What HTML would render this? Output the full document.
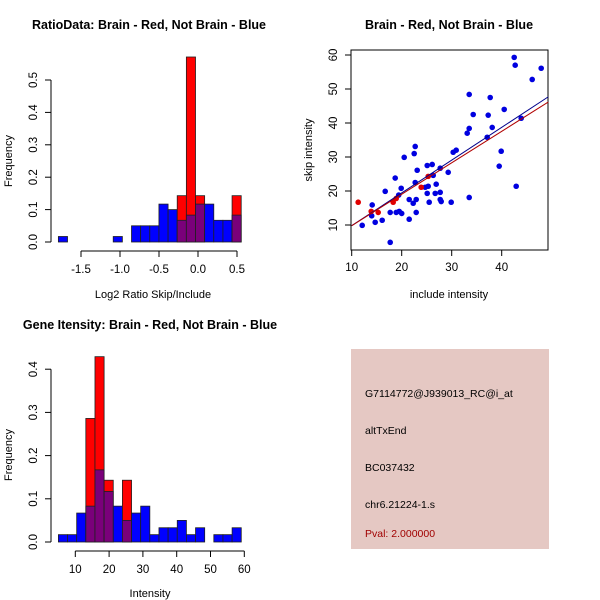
<!DOCTYPE html>
<html><head><meta charset="utf-8"><style>
body{margin:0;background:#fff}
svg{display:block;font-family:"Liberation Sans",sans-serif}
</style></head><body>
<svg id="s" width="600" height="600" viewBox="0 0 600 600" xmlns="http://www.w3.org/2000/svg">
<rect x="0" y="0" width="600" height="600" fill="#fff"/>
<text x="149" y="29" font-size="12.5" font-weight="bold" text-anchor="middle">RatioData: Brain - Red, Not Brain - Blue</text>
<text x="449" y="29" font-size="12.5" font-weight="bold" text-anchor="middle">Brain - Red, Not Brain - Blue</text>
<text x="150" y="329" font-size="12.5" font-weight="bold" text-anchor="middle">Gene Itensity: Brain - Red, Not Brain - Blue</text>
<text x="153" y="298" font-size="11" text-anchor="middle">Log2 Ratio Skip/Include</text>
<text x="12" y="161" font-size="11" text-anchor="middle" transform="rotate(-90 12 161)">Frequency</text>
<text x="449" y="298" font-size="11" text-anchor="middle">include intensity</text>
<text x="312" y="150" font-size="11" text-anchor="middle" transform="rotate(-90 312 150)">skip intensity</text>
<text x="150" y="597" font-size="11" text-anchor="middle">Intensity</text>
<text x="12" y="455" font-size="11" text-anchor="middle" transform="rotate(-90 12 455)">Frequency</text>
<g>
<rect x="351" y="349" width="198" height="200" fill="#e5c8c3"/>
<text x="365" y="397" font-size="10.5">G7114772@J939013_RC@i_at</text>
<text x="365" y="434" font-size="10.5">altTxEnd</text>
<text x="365" y="471" font-size="10.5">BC037432</text>
<text x="365" y="508" font-size="10.5">chr6.21224-1.s</text>
<text x="365" y="537" font-size="10.5" fill="#a00000">Pval: 2.000000</text>
</g>
<g id="g"></g>
</svg>
<script>
// Ratio histogram data
const ratioStart = -1.79, ratioBinW = 0.1172;
const ratioBlue = [0.017,0,0,0,0,0,0.017,0,0.05,0.05,0.05,0.117,0.1,0.067,0.083,0.117,0.117,0.067,0.067,0.083];
const ratioRed  = [0,0,0,0,0,0,0,0,0,0,0,0,0,0.143,0.571,0.143,0,0,0,0.143];
const ratioXTicks = [-1.5,-1.0,-0.5,0.0,0.5];
const ratioXLabels = ["-1.5","-1.0","-0.5","0.0","0.5"];
const ratioYTicks = [0,0.1,0.2,0.3,0.4,0.5];
const ratioYLabels = ["0.0","0.1","0.2","0.3","0.4","0.5"];
// Intensity histogram data
const intStart = 5, intBinW = 2.705;
const intBlue = [0.017,0.017,0.067,0.083,0.167,0.117,0.083,0.05,0.067,0.083,0.017,0.033,0.033,0.05,0.017,0.033,0,0.017,0.017,0.033];
const intRed  = [0,0,0,0.286,0.429,0.143,0,0.143,0,0,0,0,0,0,0,0,0,0,0,0];
const intXTicks = [10,20,30,40,50,60];
const intYTicks = [0,0.1,0.2,0.3,0.4];
const intYLabels = ["0.0","0.1","0.2","0.3","0.4"];
// Scatter data
const blueX = [12.1,14.1,14.0,14.7,16.1,16.7,17.7,17.7,18.7,18.9,19.4,19.5,19.9,20.0,20.5,21.5,21.5,22.3,22.5,22.7,22.7,22.9,22.9,23.1,24.7,25.1,25.1,25.3,25.5,26.1,26.3,26.7,26.9,27.7,27.7,27.7,27.9,29.3,29.9,30.3,30.9,33.1,33.5,33.5,33.5,34.3,37.1,37.3,37.7,38.1,39.5,39.9,40.5,42.5,42.7,42.9,43.9,46.1,47.9];
const blueY = [9.9,15.9,12.7,10.8,11.4,19.9,13.7,4.9,23.8,13.7,18.8,14.0,20.8,13.4,29.9,17.5,11.7,16.4,31.0,33.1,22.5,13.7,17.5,26.1,21.1,19.3,27.5,21.4,16.7,27.8,24.6,19.3,22.0,26.7,19.6,17.5,16.9,25.5,16.7,31.4,32.0,37.0,38.4,48.4,18.1,42.5,35.8,42.3,47.5,38.7,27.3,31.7,44.0,59.3,57.0,21.4,41.4,52.8,56.1];
const redX = [11.3,13.9,15.3,18.3,18.9,23.9,25.3];
const redY = [16.7,14.0,13.7,16.7,17.8,21.1,24.3];
const fitBlue = [0.16,0.964];
const fitRed = [0.55,0.925];
const scXTicks = [10,20,30,40];
const scYTicks = [10,20,30,40,50,60];

const NS="http://www.w3.org/2000/svg", G=document.getElementById('g');
function mk(t,a,p){const e=document.createElementNS(NS,t);for(const k in a)e.setAttribute(k,a[k]);(p||G).appendChild(e);return e;}

function hist(o){
  const X=v=>o.x0+(v-o.d0)*o.sx, Y=v=>o.y0-v*o.sy;
  const g=mk('g',{});
  
  
  for(let i=0;i<o.blue.length;i++){
    const a=X(o.start+i*o.w), b=X(o.start+(i+1)*o.w);
    const bv=o.blue[i], rv=o.red[i], m=Math.min(bv,rv);
    const parts=[];
    if(rv>bv) parts.push([rv,'#ff0000']);
    if(bv>rv) parts.push([bv,'#0000ff']);
    if(m>0) parts.push([m,'#7a007a']);
    parts.forEach(p=>{
      if(p[0]<=0)return;
      const r=mk('rect',{x:a,y:Y(p[0]),width:b-a,height:Y(0)-Y(p[0]),fill:p[1],stroke:'#202020','stroke-width':0.8},g);
      
      
    });
  }
  const ax=o.axX;
  mk('line',{x1:X(o.xt[0]),x2:X(o.xt[o.xt.length-1]),y1:ax,y2:ax,stroke:'#000'},g);
  o.xt.forEach((t,i)=>{mk('line',{x1:X(t),x2:X(t),y1:ax,y2:ax+6,stroke:'#000'},g);
    const tx=mk('text',{x:X(t),y:ax+22,'font-size':11.5,'text-anchor':'middle'},g);tx.textContent=o.xl[i];});
  mk('line',{x1:o.axY,x2:o.axY,y1:Y(o.yt[0]),y2:Y(o.yt[o.yt.length-1]),stroke:'#000'},g);
  o.yt.forEach((t,i)=>{mk('line',{x1:o.axY,x2:o.axY-6,y1:Y(t),y2:Y(t),stroke:'#000'},g);
    const ty=o.axY-14;const tx=mk('text',{x:ty,y:Y(t),'font-size':11.5,'text-anchor':'middle',transform:`rotate(-90 ${ty} ${Y(t)})`},g);tx.textContent=o.yl[i];});
}
hist({name:'ratio-histogram',start:ratioStart,w:ratioBinW,blue:ratioBlue,red:ratioRed,x0:198,d0:0,sx:78,y0:242,sy:324,axX:251,axY:51,xt:ratioXTicks,xl:ratioXLabels,yt:ratioYTicks,yl:ratioYLabels});
hist({name:'intensity-histogram',start:intStart,w:intBinW,blue:intBlue,red:intRed,x0:75.3,d0:10,sx:3.38,y0:542,sy:432,axX:551,axY:51,xt:intXTicks,xl:intXTicks.map(String),yt:intYTicks,yl:intYLabels});

// scatter
(function(){
  const X=v=>351.7+(v-10)*5, Y=v=>225-(v-10)*3.4;
  const g=mk('g',{});
  
  
  mk('rect',{x:351,y:50,width:197,height:200,fill:'none',stroke:'#000'},g);
  scXTicks.forEach(t=>{mk('line',{x1:X(t),x2:X(t),y1:250,y2:256,stroke:'#000'},g);
    const tx=mk('text',{x:X(t),y:271,'font-size':11.5,'text-anchor':'middle'},g);tx.textContent=t;});
  scYTicks.forEach(t=>{mk('line',{x1:351,x2:345,y1:Y(t),y2:Y(t),stroke:'#000'},g);
    const tx=mk('text',{x:337,y:Y(t),'font-size':11.5,'text-anchor':'middle',transform:`rotate(-90 337 ${Y(t)})`},g);tx.textContent=t;});
  blueX.forEach((x,i)=>{const c=mk('circle',{cx:X(x),cy:Y(blueY[i]),r:2.8,fill:'#0000e0'},g);
    
    });
  redX.forEach((x,i)=>{const c=mk('circle',{cx:X(x),cy:Y(redY[i]),r:2.8,fill:'#e00000'},g);
    
    });
  [[fitBlue,'#00008b','blue-fit-line'],[fitRed,'#b00000','red-fit-line']].forEach(f=>{
    const x1=10,x2=49.3;
    const l=mk('line',{x1:X(x1),y1:Y(f[0][0]+f[0][1]*x1),x2:X(x2),y2:Y(f[0][0]+f[0][1]*x2),stroke:f[1],'stroke-width':1},g);
    
    
  });
})();
</script>
</body></html>
